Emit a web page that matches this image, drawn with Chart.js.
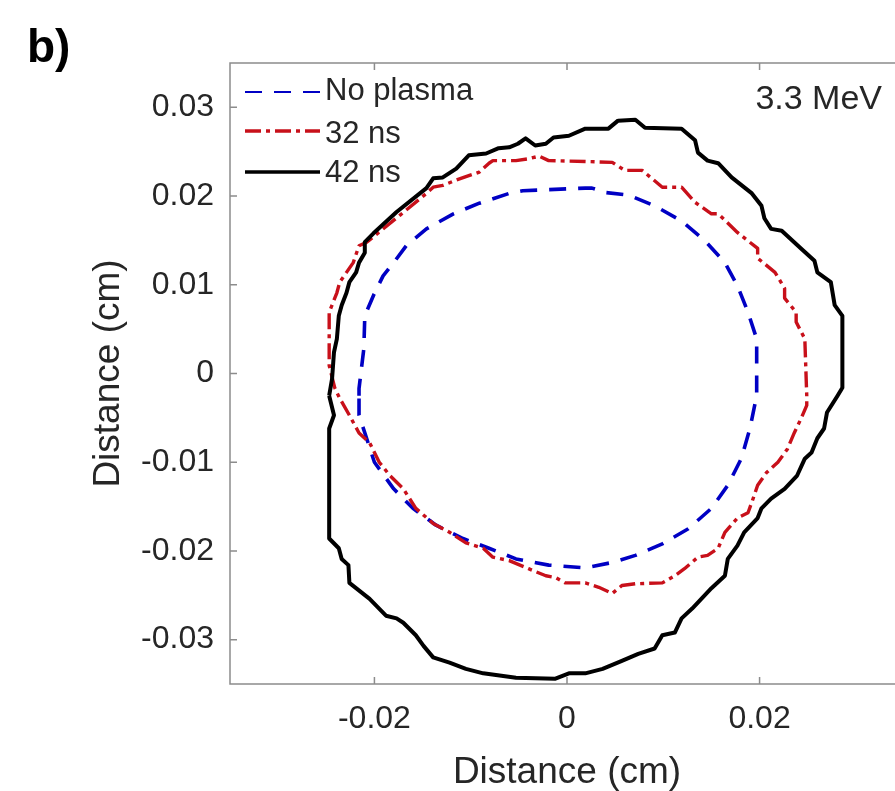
<!DOCTYPE html>
<html lang="en">
<head>
    <meta charset="UTF-8">
    <title>Beam contour 3.3 MeV</title>
    <script src="https://cdn.jsdelivr.net/npm/chart.js"></script>
    <style>
        html, body { margin: 0; padding: 0; background: #fff; overflow: hidden; }
        #wrap { position: absolute; left: 0; top: 0; width: 920px; height: 791px; }
    </style>
</head>
<body>
<div id="wrap"><canvas id="contourChart"></canvas></div>
<script>
    // axis ticks (cm)
    const xTicks = [-0.02, 0, 0.02];
    const yTicks = [-0.03, -0.02, -0.01, 0, 0.01, 0.02, 0.03];
    const seriesLabels = ['No plasma', '32 ns', '42 ns'];
    const axisTitle = 'Distance (cm)';
    const panelLabel = 'b)';
    const energyLabel = '3.3 MeV';

    // contour without plasma
    const noPlasmaX = [-0.0216,-0.0216,-0.0211,-0.0210,-0.0201,-0.0191,-0.0180,-0.0167,-0.0146,-0.0118,
        -0.0091,-0.0060,-0.0046,0.0019,0.0026,0.0040,0.0064,0.0091,0.0119,0.0143,
        0.0164,0.0177,0.0188,0.0197,0.0197,0.0197,0.0190,0.0181,0.0167,0.0150,
        0.0126,0.0099,0.0071,0.0047,0.0019,-0.0019,-0.0053,-0.0081,-0.0108,-0.0136,
        -0.0160,-0.0180,-0.0200,-0.0216];
    const noPlasmaY = [-0.0025,-0.0017,0.0028,0.0065,0.0088,0.0110,0.0125,0.0144,0.0163,0.0180,
        0.0192,0.0203,0.0206,0.0209,0.0209,0.0204,0.0201,0.0189,0.0172,0.0150,
        0.0125,0.0099,0.0069,0.0039,0.0001,-0.0025,-0.0062,-0.0096,-0.0126,-0.0152,
        -0.0175,-0.0192,-0.0205,-0.0213,-0.0219,-0.0216,-0.0209,-0.0197,-0.0186,-0.0171,
        -0.0152,-0.0130,-0.0100,-0.0047];

    // contour at 32 ns
    const ns32X = [-0.0241,-0.0247,-0.0247,-0.0247,-0.0239,-0.0236,-0.0229,-0.0222,-0.0216,-0.0208,
        -0.0174,-0.0146,-0.0139,-0.0129,-0.0115,-0.0102,-0.0091,-0.0081,-0.0077,-0.0053,
        -0.0040,-0.0029,-0.0019,0.0019,0.0047,0.0060,0.0078,0.0099,0.0119,0.0133,
        0.0150,0.0157,0.0177,0.0198,0.0198,0.0216,0.0226,0.0226,0.0238,0.0238,
        0.0247,0.0249,0.0249,0.0243,0.0236,0.0229,0.0219,0.0207,0.0198,0.0192,
        0.0188,0.0177,0.0164,0.0157,0.0146,0.0136,0.0122,0.0112,0.0099,0.0071,
        0.0057,0.0047,0.0033,0.0019,-0.0002,-0.0012,-0.0022,-0.0040,-0.0060,-0.0077,
        -0.0087,-0.0105,-0.0122,-0.0139,-0.0157,-0.0170,-0.0184,-0.0195,-0.0205,-0.0216,
        -0.0226,-0.0236];
    const ns32Y = [-0.0017,0.0009,0.0039,0.0069,0.0091,0.0103,0.0114,0.0125,0.0144,0.0148,
        0.0178,0.0203,0.0210,0.0212,0.0218,0.0223,0.0227,0.0237,0.0240,0.0240,
        0.0242,0.0245,0.0240,0.0239,0.0238,0.0229,0.0229,0.0210,0.0210,0.0193,
        0.0180,0.0180,0.0159,0.0141,0.0130,0.0114,0.0096,0.0085,0.0069,0.0058,
        0.0039,-0.0025,-0.0036,-0.0051,-0.0067,-0.0085,-0.0100,-0.0112,-0.0126,-0.0145,
        -0.0157,-0.0163,-0.0179,-0.0197,-0.0205,-0.0207,-0.0220,-0.0228,-0.0236,-0.0237,
        -0.0239,-0.0248,-0.0241,-0.0236,-0.0236,-0.0230,-0.0228,-0.0220,-0.0211,-0.0207,
        -0.0197,-0.0191,-0.0179,-0.0169,-0.0152,-0.0130,-0.0115,-0.0100,-0.0078,-0.0067,
        -0.0047,-0.0028];

    // contour at 42 ns
    const ns42X = [-0.0247,-0.0244,-0.0242,-0.0239,-0.0237,-0.0234,-0.0229,-0.0226,-0.0219,-0.0216,
        -0.0210,-0.0210,-0.0201,-0.0177,-0.0146,-0.0139,-0.0129,-0.0115,-0.0102,-0.0084,
        -0.0071,-0.0060,-0.0051,-0.0043,-0.0033,-0.0022,-0.0014,0.0002,0.0019,0.0043,
        0.0053,0.0071,0.0081,0.0119,0.0133,0.0136,0.0146,0.0157,0.0171,0.0192,
        0.0202,0.0205,0.0212,0.0223,0.0243,0.0257,0.0260,0.0274,0.0278,0.0286,
        0.0286,0.0281,0.0270,0.0267,0.0260,0.0254,0.0247,0.0239,0.0226,0.0212,
        0.0202,0.0198,0.0184,0.0177,0.0167,0.0164,0.0150,0.0130,0.0119,0.0112,
        0.0099,0.0091,0.0074,0.0057,0.0037,0.0019,0.0002,-0.0012,-0.0053,-0.0087,
        -0.0105,-0.0122,-0.0139,-0.0149,-0.0157,-0.0170,-0.0177,-0.0188,-0.0205,-0.0226,
        -0.0227,-0.0234,-0.0237,-0.0247,-0.0247,-0.0247,-0.0242];
    const ns42Y = [-0.0025,-0.0006,0.0024,0.0039,0.0065,0.0077,0.0091,0.0103,0.0114,0.0125,
        0.0136,0.0148,0.0158,0.0182,0.0209,0.0220,0.0221,0.0231,0.0246,0.0248,
        0.0254,0.0255,0.0259,0.0265,0.0257,0.0259,0.0266,0.0268,0.0276,0.0276,
        0.0285,0.0286,0.0277,0.0276,0.0263,0.0249,0.0240,0.0237,0.0221,0.0203,
        0.0189,0.0175,0.0163,0.0161,0.0141,0.0127,0.0114,0.0103,0.0077,0.0065,
        -0.0016,-0.0025,-0.0044,-0.0062,-0.0073,-0.0089,-0.0096,-0.0115,-0.0130,-0.0141,
        -0.0152,-0.0163,-0.0179,-0.0194,-0.0209,-0.0228,-0.0242,-0.0265,-0.0276,-0.0292,
        -0.0295,-0.0310,-0.0316,-0.0324,-0.0333,-0.0338,-0.0338,-0.0344,-0.0343,-0.0338,
        -0.0333,-0.0326,-0.0320,-0.0307,-0.0295,-0.0281,-0.0276,-0.0273,-0.0254,-0.0236,
        -0.0216,-0.0209,-0.0197,-0.0186,-0.0104,-0.0062,-0.0047];

    const fontFamily = "'Liberation Sans', Arial, Helvetica, sans-serif";
    const textColor = '#262626';
    const axisColor = '#8c8c8c';

    // closed contour -> list of {x, y}
    function toLoop(xs, ys) {
        const pts = xs.map((v, i) => ({ x: v, y: ys[i] }));
        pts.push({ x: xs[0], y: ys[0] });
        return pts;
    }

    // box, inward ticks, legend and labels (MATLAB style)
    const decorations = {
        id: 'decorations',
        afterDatasetsDraw(chart) {
            const { ctx, chartArea: a, scales } = chart;
            ctx.save();

            ctx.strokeStyle = axisColor;
            ctx.lineWidth = 1.5;
            ctx.beginPath();
            ctx.rect(a.left, a.top, a.right - a.left, a.bottom - a.top);
            xTicks.forEach(v => {
                const px = scales.x.getPixelForValue(v);
                ctx.moveTo(px, a.bottom); ctx.lineTo(px, a.bottom - 7);
                ctx.moveTo(px, a.top); ctx.lineTo(px, a.top + 7);
            });
            yTicks.forEach(v => {
                const py = scales.y.getPixelForValue(v);
                ctx.moveTo(a.left, py); ctx.lineTo(a.left + 7, py);
                ctx.moveTo(a.right, py); ctx.lineTo(a.right - 7, py);
            });
            ctx.stroke();

            // legend, top-left inside the axes
            const rows = [
                { line: 29, base: 37 },
                { line: 68, base: 80 },
                { line: 109, base: 119 }
            ];
            ctx.font = '31px ' + fontFamily;
            ctx.textAlign = 'left';
            ctx.textBaseline = 'alphabetic';
            seriesLabels.forEach((label, i) => {
                const ds = chart.data.datasets.find(d => d.label === label);
                const yy = a.top + rows[i].line;
                ctx.strokeStyle = ds.borderColor;
                ctx.lineWidth = ds.legendWidth;
                ctx.setLineDash(ds.borderDash || []);
                ctx.beginPath();
                ctx.moveTo(a.left + 15, yy);
                ctx.lineTo(a.left + 90, yy);
                ctx.stroke();
                ctx.setLineDash([]);
                ctx.fillStyle = textColor;
                ctx.fillText(label, a.left + 95, a.top + rows[i].base);
            });

            ctx.font = '34px ' + fontFamily;
            ctx.textAlign = 'right';
            ctx.fillText(energyLabel, 882, 109);

            ctx.font = 'bold 46px ' + fontFamily;
            ctx.textAlign = 'left';
            ctx.fillStyle = '#000';
            ctx.fillText(panelLabel, 27, 62);
            ctx.restore();
        }
    };

    new Chart(document.getElementById('contourChart'), {
        type: 'scatter',
        data: {
            datasets: [
                {
                    label: seriesLabels[0],
                    data: toLoop(noPlasmaX, noPlasmaY),
                    borderColor: '#0000c4',
                    borderWidth: 3.6,
                    legendWidth: 2,
                    borderDash: [17, 12],
                    order: 2
                },
                {
                    label: seriesLabels[1],
                    data: toLoop(ns32X, ns32Y),
                    borderColor: '#c8101a',
                    borderWidth: 3.4,
                    legendWidth: 3.5,
                    borderDash: [16, 5, 4, 5],
                    order: 1
                },
                {
                    label: seriesLabels[2],
                    data: toLoop(ns42X, ns42Y),
                    borderColor: '#000000',
                    borderWidth: 4,
                    legendWidth: 3.5,
                    order: 0
                }
            ].map(ds => Object.assign(ds, {
                showLine: true,
                pointRadius: 0,
                pointHoverRadius: 0,
                tension: 0,
                fill: false,
                borderJoinStyle: 'round'
            }))
        },
        options: {
            responsive: true,
            maintainAspectRatio: false,
            devicePixelRatio: 1,
            animation: false,
            layout: { padding: { top: 63, right: 16, left: 0, bottom: 0 } },
            plugins: {
                legend: { display: false },
                tooltip: { enabled: false }
            },
            scales: {
                x: {
                    type: 'linear',
                    min: -0.035,
                    max: 0.035,
                    afterBuildTicks: s => { s.ticks = xTicks.map(v => ({ value: v })); },
                    afterFit: s => { s.height = 107; },
                    grid: { display: false, drawTicks: false },
                    border: { display: false },
                    ticks: {
                        padding: 16,
                        color: textColor,
                        maxRotation: 0,
                        autoSkip: false,
                        font: { family: fontFamily, size: 32 },
                        callback: v => String(v)
                    },
                    title: {
                        display: true,
                        text: axisTitle,
                        color: textColor,
                        font: { family: fontFamily, size: 37, lineHeight: 1 },
                        padding: { top: 0, bottom: 0 }
                    }
                },
                y: {
                    type: 'linear',
                    min: -0.035,
                    max: 0.035,
                    afterBuildTicks: s => { s.ticks = yTicks.map(v => ({ value: v })); },
                    afterFit: s => { s.width = 230; },
                    grid: { display: false, drawTicks: false },
                    border: { display: false },
                    ticks: {
                        padding: 16,
                        color: textColor,
                        autoSkip: false,
                        font: { family: fontFamily, size: 32 },
                        callback: v => String(v)
                    },
                    title: {
                        display: true,
                        text: axisTitle,
                        color: textColor,
                        font: { family: fontFamily, size: 37, lineHeight: 1 },
                        padding: { top: 90, bottom: 0 }
                    }
                }
            }
        },
        plugins: [decorations]
    });
</script>
</body>
</html>
